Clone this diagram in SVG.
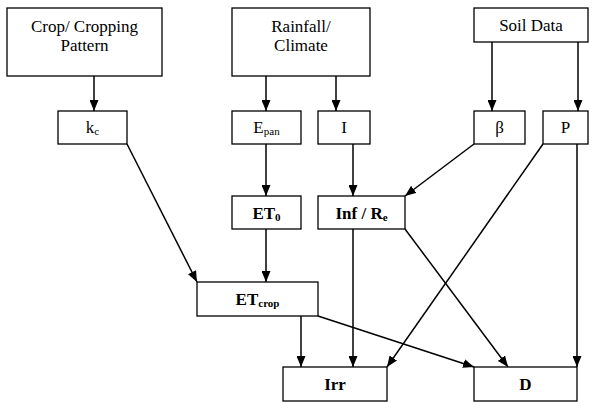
<svg xmlns="http://www.w3.org/2000/svg" width="593" height="402" viewBox="0 0 593 402">
<style>
.box{fill:#fff;stroke:#000;stroke-width:1.3}
.t{font-family:"Liberation Serif","Times New Roman",serif;font-size:17px;fill:#000;text-anchor:middle}
.b{font-weight:bold}
.sub{font-size:11px}
.c{fill:none;stroke:#000;stroke-width:1.5;marker-end:url(#ah)}
</style>
<defs>
<marker id="ah" markerUnits="userSpaceOnUse" markerWidth="11" markerHeight="9" refX="11" refY="4.5" orient="auto">
<path d="M0,0 L11,4.5 L0,9 z" fill="#000"/>
</marker>
</defs>
<rect width="593" height="402" fill="#fff"/>
<g id="connectors">
<line class="c" x1="94" y1="76" x2="94" y2="111"/>
<line class="c" x1="266" y1="76" x2="266" y2="111"/>
<line class="c" x1="336" y1="76" x2="336" y2="111"/>
<line class="c" x1="492" y1="42" x2="492" y2="111"/>
<line class="c" x1="578" y1="42" x2="578" y2="111"/>
<line class="c" x1="266" y1="144" x2="266" y2="196"/>
<line class="c" x1="353" y1="144" x2="353" y2="196"/>
<line class="c" x1="474" y1="144" x2="405" y2="196"/>
<line class="c" x1="127" y1="144" x2="197" y2="282"/>
<line class="c" x1="266" y1="229" x2="266" y2="282"/>
<line class="c" x1="301" y1="316" x2="301" y2="367"/>
<line class="c" x1="353" y1="229" x2="353" y2="367"/>
<line class="c" x1="543" y1="144" x2="387" y2="367"/>
<line class="c" x1="405" y1="229" x2="508" y2="367"/>
<line class="c" x1="318" y1="316" x2="474" y2="367"/>
<line class="c" x1="577" y1="144" x2="577" y2="367"/>
</g>
<g id="crop">
<rect class="box" x="7" y="8" width="155" height="68"/>
<text class="t" x="84.5" y="32">Crop/ Cropping</text>
<text class="t" x="84.5" y="51">Pattern</text>
</g>
<g id="rainfall">
<rect class="box" x="232" y="8" width="138" height="68"/>
<text class="t" x="301" y="32">Rainfall/</text>
<text class="t" x="301" y="51">Climate</text>
</g>
<g id="soil">
<rect class="box" x="474" y="8" width="114" height="34"/>
<text class="t" x="531" y="31">Soil Data</text>
</g>
<g id="kc">
<rect class="box" x="58" y="111" width="69" height="33"/>
<text class="t" x="92.5" y="133">k<tspan class="sub" dy="2">c</tspan></text>
</g>
<g id="epan">
<rect class="box" x="232" y="111" width="69" height="33"/>
<text class="t" x="266.5" y="133">E<tspan class="sub" dy="2">pan</tspan></text>
</g>
<g id="i">
<rect class="box" x="318" y="111" width="52" height="33"/>
<text class="t" x="344" y="133">I</text>
</g>
<g id="beta">
<rect class="box" x="474" y="111" width="51" height="33"/>
<text class="t" x="499.5" y="133">β</text>
</g>
<g id="p">
<rect class="box" x="543" y="111" width="45" height="33"/>
<text class="t" x="565.5" y="133">P</text>
</g>
<g id="et0">
<rect class="box" x="232" y="196" width="69" height="33"/>
<text class="t b" x="266.5" y="219">ET<tspan class="sub" dy="2">0</tspan></text>
</g>
<g id="inf">
<rect class="box" x="318" y="196" width="87" height="33"/>
<text class="t b" x="361.5" y="219">Inf / R<tspan class="sub" dy="2">e</tspan></text>
</g>
<g id="etcrop">
<rect class="box" x="197" y="282" width="121" height="34"/>
<text class="t b" x="257.5" y="305">ET<tspan class="sub" dy="2">crop</tspan></text>
</g>
<g id="irr">
<rect class="box" x="283" y="367" width="104" height="34"/>
<text class="t b" x="335" y="390">Irr</text>
</g>
<g id="d">
<rect class="box" x="474" y="367" width="103" height="34"/>
<text class="t b" x="525.5" y="390">D</text>
</g>
</svg>
